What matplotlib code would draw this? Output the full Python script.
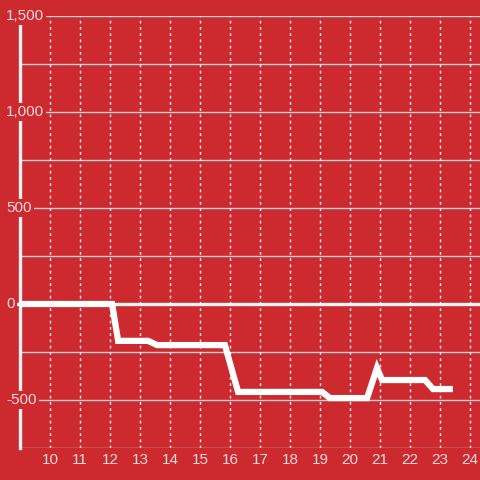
import matplotlib
matplotlib.use("Agg")
import matplotlib.pyplot as plt
import matplotlib.transforms as mtransforms

# data
x_vals = [9, 12.07, 12.27, 13.27, 13.57, 15.83, 16.27, 19.07, 19.33,
          20.57, 20.9, 21.07, 22.5, 22.77, 23.43]
y_vals = [0, 0, -192, -192, -214, -214, -458, -458, -490,
          -490, -333, -396, -396, -443, -443]

x_ticks = list(range(10, 25))
y_ticks = [-500, 0, 500, 1000, 1500]
y_labels = ["-500", "0", "500", "1,000", "1,500"]
y_grid = [-750, -500, -250, 250, 500, 750, 1000, 1250, 1500]

bg = "#cd2a2f"
txt_col = "#f3dada"
plt.rcParams["font.family"] = ["Liberation Sans", "DejaVu Sans"]

fig = plt.figure(figsize=(4.8, 4.8), dpi=100, facecolor=bg)
ax = fig.add_axes([20 / 480, 32 / 480, 460 / 480, 432 / 480])
ax.set_facecolor(bg)
ax.set_xlim(9, 9 + 460 / 30)
ax.set_ylim(-750, 1500)

for s in ["top", "right", "bottom"]:
    ax.spines[s].set_visible(False)
ax.spines["left"].set_color("#f2f2f2")
ax.spines["left"].set_linewidth(2.4)
ax.spines["left"].set_zorder(3)

# grid
for g in y_grid:
    ax.axhline(g, color="#d2d2d2", lw=1.0, zorder=1)
for xt in x_ticks:
    ax.axvline(xt, color="#eeeeee", lw=1.0, ls=(0, (2, 2.5)), zorder=1)
ax.axhline(0, xmin=-3 / 460, xmax=1, color="#f4f4f4", lw=2.4,
           zorder=2, clip_on=False)

ax.plot(x_vals, y_vals, color="white", lw=4.5, zorder=4,
        solid_joinstyle="miter", solid_capstyle="butt")

ax.set_xticks(x_ticks)
ax.set_xticklabels([str(v) for v in x_ticks])
ax.set_yticks([])
ax.tick_params(axis="x", length=0, pad=3.5, labelsize=11, labelcolor=txt_col)

trans = mtransforms.blended_transform_factory(ax.transAxes, ax.transData)
for v, lab in zip(y_ticks, y_labels):
    ax.text(-14 / 460, v, lab, transform=trans, ha="left", va="center",
            fontsize=11, color=txt_col, zorder=6, clip_on=False,
            bbox=dict(facecolor=bg, edgecolor="none", pad=1.5))

fig.savefig("out.png", dpi=100, facecolor=bg)
